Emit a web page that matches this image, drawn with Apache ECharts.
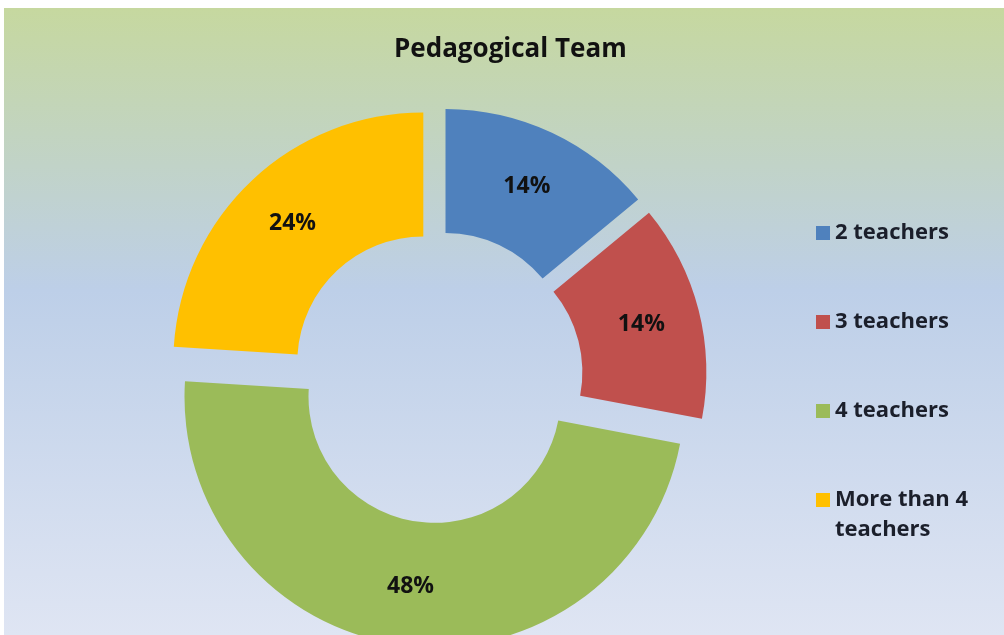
<!DOCTYPE html>
<html>
<head>
<meta charset="utf-8">
<script src="https://cdn.jsdelivr.net/npm/echarts@6/dist/echarts.min.js"></script>
<style>
  html, body { margin: 0; padding: 0; background: #fff; }
  #main { width: 1004px; height: 635px; }
</style>
</head>
<body>
<div id="main"></div>
<script>
// data
var categories = ['2 teachers', '3 teachers', '4 teachers', 'More than 4 teachers'];
var shares = [14, 14, 48, 24];
var colors = ['#4f81bd', '#c0504d', '#9bbb59', '#ffc000'];

var chart = echarts.init(document.getElementById('main'));

var pieData = categories.map(function (name, i) {
    return { name: name, value: shares[i], selected: true, itemStyle: { color: colors[i] } };
});

var legendText = {
    fontFamily: 'Open Sans',
    fontWeight: 'bold',
    fontSize: 22,
    lineHeight: 30,
    color: '#1b1f2b'
};

var option = {
    animation: false,
    graphic: [{
        type: 'rect',
        left: 4,
        top: 8,
        z: -10,
        silent: true,
        shape: { width: 1000, height: 627 },
        style: {
            fill: new echarts.graphic.LinearGradient(0, 0, 0, 1, [
                { offset: 0, color: '#c6d89f' },
                { offset: 0.45, color: '#bdcfe8' },
                { offset: 1, color: '#dfe5f3' }
            ])
        }
    }],
    title: {
        text: 'Pedagogical Team',
        left: 394,
        top: 37,
        padding: 0,
        textStyle: {
            fontFamily: 'Open Sans',
            fontWeight: 'bold',
            fontSize: 26,
            color: '#111'
        }
    },
    legend: [{
        orient: 'vertical',
        left: 816,
        top: 218,
        padding: 0,
        itemGap: 59,
        itemWidth: 14,
        itemHeight: 14,
        icon: 'rect',
        selectedMode: false,
        data: categories.slice(0, 3),
        textStyle: legendText
    }, {
        orient: 'vertical',
        left: 816,
        top: 455,
        padding: 0,
        itemWidth: 14,
        itemHeight: 14,
        icon: 'rect',
        selectedMode: false,
        data: categories.slice(3),
        // blank first line keeps the icon level with "More than 4"
        formatter: function () { return ' \nMore than 4\nteachers'; },
        textStyle: legendText
    }],
    series: [{
        type: 'pie',
        center: [437, 377],
        radius: [126, 250],
        startAngle: 90,
        clockwise: true,
        selectedMode: 'multiple',
        selectedOffset: 20,
        avoidLabelOverlap: false,
        emphasis: { disabled: true },
        label: {
            position: 'inside',
            formatter: '{c}%',
            offset: [0, 6],
            fontFamily: 'Open Sans',
            fontWeight: 'bold',
            fontSize: 23,
            color: '#111'
        },
        labelLine: { show: false },
        data: pieData
    }]
};

chart.setOption(option);
</script>
</body>
</html>
